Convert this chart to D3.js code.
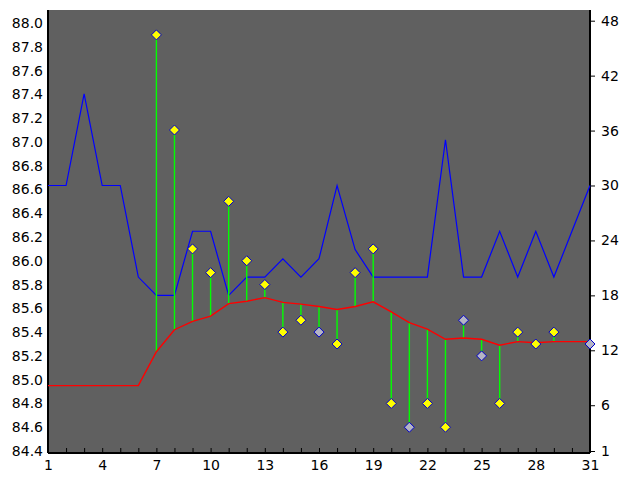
<!DOCTYPE html>
<html>
<head>
<script src="https://d3js.org/d3.v7.min.js"></script>
<style>
body { margin: 0; background: #fff; }
text { font: 14px "DejaVu Sans", sans-serif; fill: #000; }
</style>
</head>
<body>
<script>
var days = d3.range(1, 32);
var countSeries = [30, 30, 40, 30, 30, 20, 18, 18, 25, 25, 18, 20, 20, 22, 20, 22, 30, 23, 20, 20, 20, 20, 35, 20, 20, 25, 20, 25, 20, 25, 30];
var avgSeries = [84.95, 84.95, 84.95, 84.95, 84.95, 84.95, 85.235, 85.42, 85.49, 85.535, 85.64, 85.66, 85.69, 85.65, 85.635, 85.615, 85.59, 85.615, 85.655, 85.57, 85.48, 85.425, 85.34, 85.35, 85.34, 85.29, 85.32, 85.31, 85.32, 85.32, 85.32];
var pointDays = [7, 8, 9, 10, 11, 12, 13, 14, 15, 16, 17, 18, 19, 20, 21, 22, 23, 24, 25, 26, 27, 28, 29, 31];
var pointValues = [87.9, 87.1, 86.1, 85.9, 86.5, 86.0, 85.8, 85.4, 85.5, 85.4, 85.3, 85.9, 86.1, 84.8, 84.6, 84.8, 84.6, 85.5, 85.2, 84.8, 85.4, 85.3, 85.4, 85.3];
var grayDays = [16, 21, 24, 25, 31];
var leftTicks = d3.range(0, 19).map(function(i) { return +(84.4 + i * 0.2).toFixed(1); });
var rightTicks = [1, 6, 12, 18, 24, 30, 36, 42, 48];
var xTicks = [1, 4, 7, 10, 13, 16, 19, 22, 25, 28, 31];

var W = 640, H = 480, L = 48, R = 590, T = 10, B = 453;
var svg = d3.select("body").append("svg").attr("width", W).attr("height", H);

var x = d3.scaleLinear().domain([1, 31]).range([L, R]);
var yL = d3.scaleLinear().domain([84.4, 88.0]).range([451, 23]);
var yR = d3.scaleLinear().domain([1, 48]).range([451, 20.7]);

svg.append("rect").attr("x", L).attr("y", T).attr("width", R - L).attr("height", B - T).attr("fill", "#606060");

// axes
var ax = svg.append("g").attr("transform", "translate(0," + B + ")")
    .call(d3.axisBottom(x).tickValues(days).tickSize(-5).tickFormat(function(d) { return xTicks.indexOf(d) >= 0 ? d : ""; }));
ax.selectAll("text").attr("dy", "1.0em");
var al = svg.append("g").attr("transform", "translate(" + L + ",0)")
    .call(d3.axisLeft(yL).tickValues(leftTicks).tickSize(0).tickPadding(5).tickFormat(d3.format(".1f")));
var ar = svg.append("g").attr("transform", "translate(" + R + ",0)")
    .call(d3.axisRight(yR).tickValues(rightTicks).tickSize(5).tickPadding(6));
[ax, al, ar].forEach(function(a) {
    a.select(".domain").attr("stroke", "#000").attr("stroke-width", 2);
    a.selectAll("line").attr("stroke", "#000");
    a.selectAll("text").style("font-size", "14px");
});
al.select(".domain").attr("d", "M0," + T + "V" + B);
ar.select(".domain").attr("d", "M0," + T + "V" + B);
ax.select(".domain").attr("d", "M" + L + ",0H" + R);

var line = d3.line();
svg.append("path").attr("fill", "none").attr("stroke", "#0000ff").attr("stroke-width", 1.2)
    .attr("d", line(days.map(function(d, i) { return [x(d), yR(countSeries[i])]; })));

// stems
svg.append("g").selectAll("line").data(pointDays).join("line")
    .attr("x1", function(d) { return x(d); }).attr("x2", function(d) { return x(d); })
    .attr("y1", function(d, i) { return yL(pointValues[i]); })
    .attr("y2", function(d) { return yL(avgSeries[d - 1]); })
    .attr("stroke", "#00ff00").attr("stroke-width", 1.4);

svg.append("path").attr("fill", "none").attr("stroke", "#ff0000").attr("stroke-width", 1.4)
    .attr("d", line(days.map(function(d, i) { return [x(d), yL(avgSeries[i])]; })));

svg.append("g").selectAll("path").data(pointDays).join("path")
    .attr("d", "M0,-5L5,0L0,5L-5,0Z")
    .attr("transform", function(d, i) { return "translate(" + x(d) + "," + yL(pointValues[i]) + ")"; })
    .attr("fill", function(d) { return grayDays.indexOf(d) >= 0 ? "#b4b4c4" : "#ffff00"; })
    .attr("stroke", "#0000cc").attr("stroke-width", 1);
</script>
</body>
</html>
